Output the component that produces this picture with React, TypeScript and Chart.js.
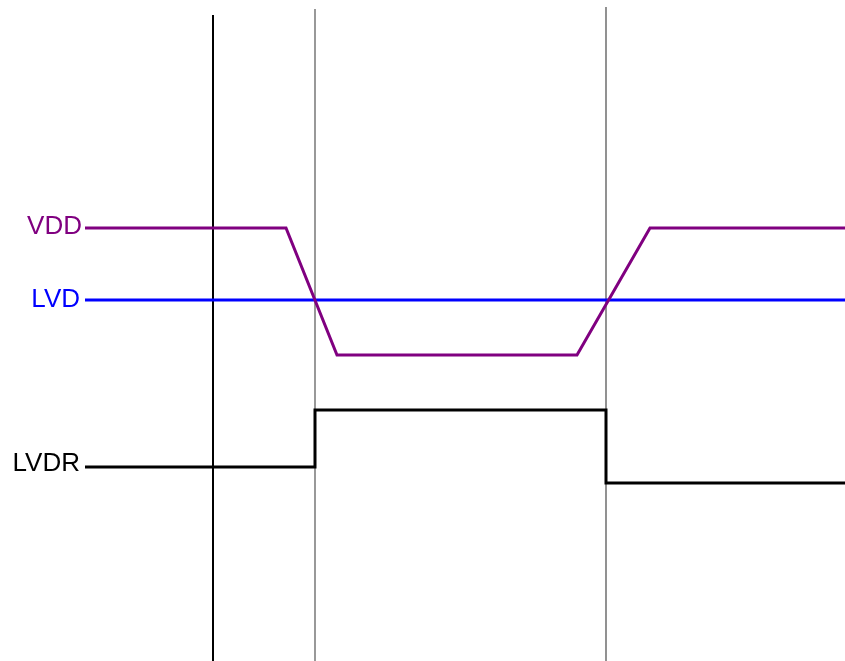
import React, { useEffect, useRef } from "react";
import { Chart, registerables } from "chart.js";

Chart.register(...registerables);

// Time axis (arbitrary units) and signal levels (arbitrary units, larger = lower on screen)
const signalNames = ["VDD", "LVD", "LVDR"];
const signalColors = ["#800080", "#0000FF", "#000000"];

const vddTimes = [85, 286, 337, 577, 650, 845];
const vddLevels = [228, 228, 355, 355, 228, 228];

const lvdTimes = [85, 845];
const lvdLevels = [300, 300];

const lvdrTimes = [85, 315, 606, 845];
const lvdrLevels = [467, 410, 483, 483];

const markerTimes = [213, 315, 606];
const markerTops = [15, 9, 7];
const markerBottom = 661;
const markerColors = ["#000000", "#555555", "#777777"];
const markerWidths = [2, 1.2, 1.6];

const labelLevels = [227, 300, 464];
const labelRightEdges = [82, 80, 80];

const xMin = 0;
const xMax = 845;
const yMin = 0;
const yMax = 661;

const pts = (xs: number[], ys: number[]) => xs.map((x, i) => ({ x, y: ys[i] }));

const labelPlugin = {
  id: "signalLabels",
  afterDatasetsDraw(chart: any) {
    const { ctx, scales } = chart;
    const xs = scales.x;
    const ys = scales.y;
    ctx.save();
    ctx.font = '26px "Liberation Sans", Arial, sans-serif';
    ctx.textAlign = "right";
    ctx.textBaseline = "middle";
    signalNames.forEach((name, i) => {
      ctx.fillStyle = signalColors[i];
      ctx.fillText(name, xs.getPixelForValue(labelRightEdges[i]), ys.getPixelForValue(labelLevels[i]));
    });
    ctx.restore();
  },
};

export default function App() {
  const ref = useRef<HTMLCanvasElement | null>(null);
  useEffect(() => {
    if (!ref.current) return;
    const markerSets = markerTimes.map((t, i) => ({
      label: "marker" + i,
      data: [
        { x: t, y: markerTops[i] },
        { x: t, y: markerBottom },
      ],
      borderColor: markerColors[i],
      borderWidth: markerWidths[i],
      pointRadius: 0,
      order: 5,
    }));
    const chart = new Chart(ref.current, {
      type: "line",
      data: {
        datasets: [
          {
            label: "VDD",
            data: pts(vddTimes, vddLevels),
            borderColor: signalColors[0],
            borderWidth: 3,
            pointRadius: 0,
            borderJoinStyle: "miter",
            order: 2,
          },
          {
            label: "LVD",
            data: pts(lvdTimes, lvdLevels),
            borderColor: signalColors[1],
            borderWidth: 3,
            pointRadius: 0,
            order: 3,
          },
          {
            label: "LVDR",
            data: pts(lvdrTimes, lvdrLevels),
            borderColor: signalColors[2],
            borderWidth: 3,
            pointRadius: 0,
            stepped: "before",
            borderJoinStyle: "miter",
            order: 3,
          },
          ...markerSets,
        ],
      },
      options: {
        animation: false,
        responsive: false,
        parsing: false,
        layout: { padding: 0 },
        plugins: { legend: { display: false }, tooltip: { enabled: false } },
        scales: {
          x: { type: "linear", min: xMin, max: xMax, display: false },
          y: { type: "linear", min: yMin, max: yMax, reverse: true, display: false },
        },
      } as any,
      plugins: [labelPlugin],
    });
    return () => chart.destroy();
  }, []);
  return (
    <div style={{ position: "fixed", left: 0, top: 0, width: 845, height: 661, background: "#fff" }}>
      <canvas ref={ref} width={845} height={661} />
    </div>
  );
}
